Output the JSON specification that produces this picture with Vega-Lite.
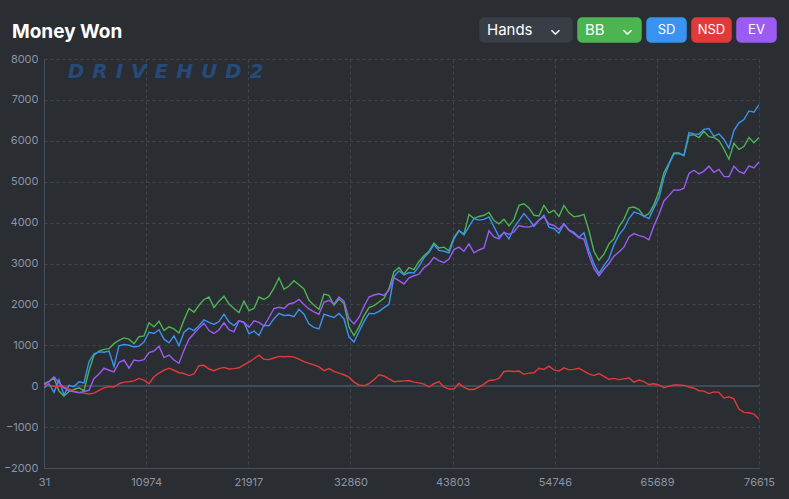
{
  "$schema": "https://vega.github.io/schema/vega-lite/v6.json",
  "width": 715,
  "height": 409,
  "autosize": {"type": "none"},
  "padding": {"left": 44, "top": 59, "right": 30, "bottom": 31},
  "background": "#2a2d32",
  "title": {
    "text": "Money Won",
    "subtitle": "\u200b\u00a0\u00a0\u00a0\u00a0\u00a0\u00a0\u00a0\u00a0D\u2009\u200a\u200aR\u2009\u200a\u200aI\u2009\u200a\u200aV\u2009\u200a\u200aE\u2009\u200a\u200aH\u2009\u200a\u200aU\u2009\u200a\u200aD\u2009\u200a\u200a2",
    "anchor": "start",
    "frame": "group",
    "dx": -32,
    "dy": 42,
    "offset": -22,
    "font": "Inter",
    "fontSize": 19,
    "fontWeight": 700,
    "color": "#ffffff",
    "subtitleFont": "DejaVu Sans",
    "subtitleFontSize": 20,
    "subtitleFontStyle": "italic",
    "subtitleFontWeight": "bold",
    "subtitleColor": "#264b7a",
    "subtitlePadding": 20
  },
  "data": {
    "values": [
      {"h":31,"BB":60,"SD":-40,"NSD":40,"EV":40},
      {"h":567,"BB":120,"SD":60,"NSD":20,"EV":110},
      {"h":1102,"BB":200,"SD":-150,"NSD":0,"EV":230},
      {"h":1638,"BB":-120,"SD":160,"NSD":0,"EV":80},
      {"h":2173,"BB":-240,"SD":-220,"NSD":-20,"EV":-40},
      {"h":2709,"BB":-130,"SD":20,"NSD":-70,"EV":-110},
      {"h":3244,"BB":-80,"SD":-10,"NSD":-120,"EV":-140},
      {"h":3780,"BB":-40,"SD":110,"NSD":-150,"EV":-160},
      {"h":4315,"BB":-110,"SD":80,"NSD":-170,"EV":-130},
      {"h":4851,"BB":380,"SD":600,"NSD":-190,"EV":-100},
      {"h":5386,"BB":760,"SD":790,"NSD":-170,"EV":190},
      {"h":5922,"BB":860,"SD":840,"NSD":-100,"EV":300},
      {"h":6457,"BB":900,"SD":830,"NSD":-40,"EV":440},
      {"h":6993,"BB":920,"SD":860,"NSD":-10,"EV":390},
      {"h":7528,"BB":1040,"SD":480,"NSD":-20,"EV":350},
      {"h":8064,"BB":1120,"SD":990,"NSD":60,"EV":580},
      {"h":8599,"BB":1180,"SD":1020,"NSD":100,"EV":640},
      {"h":9135,"BB":1150,"SD":1000,"NSD":110,"EV":440},
      {"h":9670,"BB":1040,"SD":960,"NSD":130,"EV":640},
      {"h":10206,"BB":1210,"SD":980,"NSD":190,"EV":620},
      {"h":10741,"BB":1230,"SD":1080,"NSD":150,"EV":650},
      {"h":11277,"BB":1550,"SD":1320,"NSD":60,"EV":820},
      {"h":11812,"BB":1450,"SD":1290,"NSD":230,"EV":860},
      {"h":12348,"BB":1590,"SD":1380,"NSD":320,"EV":980},
      {"h":12883,"BB":1360,"SD":1150,"NSD":390,"EV":700},
      {"h":13419,"BB":1450,"SD":1060,"NSD":440,"EV":760},
      {"h":13954,"BB":1400,"SD":1230,"NSD":390,"EV":640},
      {"h":14490,"BB":1300,"SD":990,"NSD":330,"EV":560},
      {"h":15025,"BB":1620,"SD":1320,"NSD":310,"EV":880},
      {"h":15561,"BB":1900,"SD":1420,"NSD":260,"EV":1150},
      {"h":16096,"BB":1810,"SD":1360,"NSD":300,"EV":1290},
      {"h":16632,"BB":1980,"SD":1480,"NSD":500,"EV":1420},
      {"h":17167,"BB":2120,"SD":1620,"NSD":510,"EV":1540},
      {"h":17703,"BB":2180,"SD":1560,"NSD":420,"EV":1360},
      {"h":18238,"BB":1920,"SD":1510,"NSD":380,"EV":1290},
      {"h":18774,"BB":2080,"SD":1580,"NSD":430,"EV":1380},
      {"h":19309,"BB":2200,"SD":1760,"NSD":460,"EV":1550},
      {"h":19845,"BB":2010,"SD":1570,"NSD":420,"EV":1380},
      {"h":20380,"BB":1900,"SD":1480,"NSD":430,"EV":1330},
      {"h":20916,"BB":1800,"SD":1600,"NSD":450,"EV":1600},
      {"h":21451,"BB":2080,"SD":1560,"NSD":520,"EV":1560},
      {"h":21987,"BB":1850,"SD":1280,"NSD":590,"EV":1440},
      {"h":22522,"BB":1900,"SD":1350,"NSD":670,"EV":1600},
      {"h":23058,"BB":2180,"SD":1240,"NSD":760,"EV":1560},
      {"h":23593,"BB":2120,"SD":1490,"NSD":660,"EV":1470},
      {"h":24129,"BB":2200,"SD":1480,"NSD":650,"EV":1680},
      {"h":24664,"BB":2400,"SD":1650,"NSD":690,"EV":1900},
      {"h":25200,"BB":2650,"SD":1780,"NSD":730,"EV":1930},
      {"h":25735,"BB":2370,"SD":1730,"NSD":720,"EV":1900},
      {"h":26271,"BB":2450,"SD":1740,"NSD":730,"EV":2010},
      {"h":26806,"BB":2580,"SD":1700,"NSD":710,"EV":2040},
      {"h":27342,"BB":2480,"SD":1880,"NSD":660,"EV":2120},
      {"h":27877,"BB":2380,"SD":1760,"NSD":600,"EV":2000},
      {"h":28413,"BB":2100,"SD":1520,"NSD":560,"EV":1890},
      {"h":28948,"BB":1980,"SD":1440,"NSD":520,"EV":1820},
      {"h":29484,"BB":1880,"SD":1400,"NSD":470,"EV":1760},
      {"h":30019,"BB":2250,"SD":1760,"NSD":380,"EV":2050},
      {"h":30555,"BB":2220,"SD":1720,"NSD":430,"EV":2100},
      {"h":31090,"BB":1980,"SD":1680,"NSD":360,"EV":2010},
      {"h":31626,"BB":2130,"SD":1780,"NSD":320,"EV":2180},
      {"h":32161,"BB":2020,"SD":1650,"NSD":280,"EV":2080},
      {"h":32697,"BB":1450,"SD":1200,"NSD":220,"EV":1650},
      {"h":33232,"BB":1240,"SD":1080,"NSD":100,"EV":1520},
      {"h":33768,"BB":1450,"SD":1330,"NSD":30,"EV":1680},
      {"h":34303,"BB":1720,"SD":1580,"NSD":10,"EV":1950},
      {"h":34839,"BB":1920,"SD":1780,"NSD":60,"EV":2180},
      {"h":35374,"BB":1970,"SD":1770,"NSD":160,"EV":2230},
      {"h":35910,"BB":2060,"SD":1830,"NSD":280,"EV":2260},
      {"h":36445,"BB":2150,"SD":1920,"NSD":250,"EV":2220},
      {"h":36981,"BB":2380,"SD":2000,"NSD":180,"EV":2350},
      {"h":37516,"BB":2800,"SD":2680,"NSD":110,"EV":2650},
      {"h":38052,"BB":2900,"SD":2820,"NSD":120,"EV":2580},
      {"h":38587,"BB":2740,"SD":2720,"NSD":130,"EV":2500},
      {"h":39123,"BB":2900,"SD":2780,"NSD":140,"EV":2650},
      {"h":39658,"BB":2850,"SD":2770,"NSD":100,"EV":2700},
      {"h":40194,"BB":3050,"SD":2930,"NSD":80,"EV":2740},
      {"h":40729,"BB":3190,"SD":3140,"NSD":50,"EV":2900},
      {"h":41265,"BB":3300,"SD":3270,"NSD":-20,"EV":2990},
      {"h":41800,"BB":3500,"SD":3460,"NSD":60,"EV":3150},
      {"h":42336,"BB":3380,"SD":3320,"NSD":110,"EV":3070},
      {"h":42871,"BB":3400,"SD":3300,"NSD":-20,"EV":3020},
      {"h":43407,"BB":3310,"SD":3260,"NSD":-70,"EV":3110},
      {"h":43942,"BB":3640,"SD":3600,"NSD":-70,"EV":3340},
      {"h":44478,"BB":3810,"SD":3800,"NSD":70,"EV":3400},
      {"h":45013,"BB":3720,"SD":3700,"NSD":-30,"EV":3300},
      {"h":45549,"BB":4200,"SD":3900,"NSD":-80,"EV":3480},
      {"h":46084,"BB":4100,"SD":4100,"NSD":-80,"EV":3260},
      {"h":46620,"BB":4150,"SD":4060,"NSD":-20,"EV":3330},
      {"h":47155,"BB":4180,"SD":4080,"NSD":50,"EV":3380},
      {"h":47691,"BB":4250,"SD":4140,"NSD":140,"EV":3800},
      {"h":48226,"BB":4050,"SD":3900,"NSD":150,"EV":3650},
      {"h":48762,"BB":3970,"SD":3650,"NSD":190,"EV":3600},
      {"h":49297,"BB":4080,"SD":3760,"NSD":360,"EV":3760},
      {"h":49833,"BB":3920,"SD":3600,"NSD":370,"EV":3710},
      {"h":50368,"BB":4080,"SD":3880,"NSD":360,"EV":3770},
      {"h":50904,"BB":4420,"SD":4050,"NSD":370,"EV":3930},
      {"h":51439,"BB":4460,"SD":4220,"NSD":290,"EV":3900},
      {"h":51975,"BB":4360,"SD":4080,"NSD":320,"EV":3890},
      {"h":52510,"BB":4180,"SD":3910,"NSD":330,"EV":3940},
      {"h":53046,"BB":4160,"SD":4060,"NSD":440,"EV":4060},
      {"h":53581,"BB":4420,"SD":4180,"NSD":410,"EV":4140},
      {"h":54117,"BB":4240,"SD":3890,"NSD":490,"EV":3970},
      {"h":54652,"BB":4300,"SD":3850,"NSD":400,"EV":3930},
      {"h":55188,"BB":4150,"SD":3740,"NSD":370,"EV":3830},
      {"h":55723,"BB":4420,"SD":3970,"NSD":450,"EV":3970},
      {"h":56259,"BB":4240,"SD":3820,"NSD":400,"EV":3810},
      {"h":56794,"BB":4140,"SD":3760,"NSD":410,"EV":3730},
      {"h":57330,"BB":4160,"SD":3640,"NSD":440,"EV":3630},
      {"h":57865,"BB":4200,"SD":3750,"NSD":370,"EV":3600},
      {"h":58401,"BB":3800,"SD":3320,"NSD":300,"EV":3200},
      {"h":58936,"BB":3300,"SD":2990,"NSD":260,"EV":2880},
      {"h":59472,"BB":3080,"SD":2760,"NSD":310,"EV":2700},
      {"h":60007,"BB":3230,"SD":2950,"NSD":240,"EV":2860},
      {"h":60543,"BB":3480,"SD":3120,"NSD":170,"EV":3000},
      {"h":61078,"BB":3600,"SD":3450,"NSD":190,"EV":3180},
      {"h":61614,"BB":3900,"SD":3700,"NSD":160,"EV":3280},
      {"h":62149,"BB":4080,"SD":3850,"NSD":180,"EV":3400},
      {"h":62685,"BB":4360,"SD":4100,"NSD":200,"EV":3650},
      {"h":63220,"BB":4380,"SD":4260,"NSD":100,"EV":3730},
      {"h":63756,"BB":4320,"SD":4220,"NSD":150,"EV":3680},
      {"h":64291,"BB":4150,"SD":4160,"NSD":110,"EV":3650},
      {"h":64827,"BB":4220,"SD":4100,"NSD":40,"EV":3580},
      {"h":65362,"BB":4440,"SD":4360,"NSD":60,"EV":3920},
      {"h":65898,"BB":4750,"SD":4600,"NSD":30,"EV":4200},
      {"h":66433,"BB":5220,"SD":5100,"NSD":-40,"EV":4530},
      {"h":66969,"BB":5450,"SD":5420,"NSD":0,"EV":4660},
      {"h":67504,"BB":5700,"SD":5680,"NSD":30,"EV":4800},
      {"h":68040,"BB":5700,"SD":5690,"NSD":30,"EV":4790},
      {"h":68575,"BB":5640,"SD":5640,"NSD":20,"EV":4840},
      {"h":69111,"BB":6130,"SD":6200,"NSD":-20,"EV":5200},
      {"h":69646,"BB":6150,"SD":6170,"NSD":-50,"EV":5280},
      {"h":70182,"BB":6080,"SD":6160,"NSD":-110,"EV":5190},
      {"h":70717,"BB":6230,"SD":6280,"NSD":-120,"EV":5260},
      {"h":71253,"BB":6100,"SD":6300,"NSD":-180,"EV":5380},
      {"h":71788,"BB":6080,"SD":6110,"NSD":-140,"EV":5230},
      {"h":72324,"BB":6010,"SD":6170,"NSD":-150,"EV":5300},
      {"h":72859,"BB":5800,"SD":6040,"NSD":-290,"EV":5130},
      {"h":73395,"BB":5550,"SD":5820,"NSD":-260,"EV":5120},
      {"h":73930,"BB":5940,"SD":6250,"NSD":-310,"EV":5380},
      {"h":74466,"BB":5790,"SD":6440,"NSD":-560,"EV":5250},
      {"h":75001,"BB":5860,"SD":6520,"NSD":-640,"EV":5200},
      {"h":75537,"BB":6080,"SD":6730,"NSD":-650,"EV":5390},
      {"h":76072,"BB":5950,"SD":6700,"NSD":-680,"EV":5340},
      {"h":76615,"BB":6080,"SD":6880,"NSD":-800,"EV":5480}
    ]
  },
  "layer": [
    {
      "mark": {"type": "rule", "color": "#434a5c", "strokeWidth": 1.5},
      "encoding": {
        "y": {
          "datum": 0,
          "type": "quantitative",
          "scale": {"domain": [-2000, 8000], "nice": false},
          "axis": {
            "values": [-2000, -1000, 0, 1000, 2000, 3000, 4000, 5000, 6000, 7000, 8000],
            "format": "d",
            "title": null,
            "grid": true
          }
        }
      }
    },
    {
      "transform": [{"fold": ["BB", "SD", "NSD", "EV"], "as": ["series", "won"]}],
      "mark": {"type": "line", "strokeWidth": 1.4, "clip": true},
      "encoding": {
        "x": {
          "field": "h",
          "type": "quantitative",
          "scale": {"domain": [31, 76615], "nice": false, "zero": false},
          "axis": {
            "values": [31, 10974, 21917, 32860, 43803, 54746, 65689, 76615],
            "format": "d",
            "title": null,
            "labelFlush": false,
            "grid": true
          }
        },
        "y": {
          "field": "won",
          "type": "quantitative",
          "scale": {"domain": [-2000, 8000], "nice": false},
          "axis": {
            "values": [-2000, -1000, 0, 1000, 2000, 3000, 4000, 5000, 6000, 7000, 8000],
            "format": "d",
            "title": null,
            "grid": true
          }
        },
        "color": {
          "field": "series",
          "type": "nominal",
          "scale": {
            "domain": ["Hands", "BB", "SD", "NSD", "EV"],
            "range": ["#383d46", "#4cb451", "#3993f0", "#e23a3a", "#9a5cf3"]
          },
          "legend": {
            "orient": "none",
            "legendX": 436,
            "legendY": -41,
            "direction": "horizontal",
            "title": null,
            "padding": 0,
            "columnPadding": 0,
            "labelFont": "Inter",
            "labelColor": "#ffffff",
            "labelExpr": "datum.label == 'Hands' ? 'Hands\u00a0\u00a0\u00a0\u00a0\u2304' : datum.label == 'BB' ? 'BB\u00a0\u00a0\u00a0\u00a0\u2304' : datum.label",
            "encode": {
              "symbols": {
                "update": {
                  "shape": {"signal": "datum.value == 'Hands' ? 'M-42,-12H42A4,4 0 0 1 46,-8V8A4,4 0 0 1 42,12H-42A4,4 0 0 1 -46,8V-8A4,4 0 0 1 -42,-12Z' : datum.value == 'BB' ? 'M-27.5,-12H27.5A4,4 0 0 1 31.5,-8V8A4,4 0 0 1 27.5,12H-27.5A4,4 0 0 1 -31.5,8V-8A4,4 0 0 1 -27.5,-12Z' : 'M-15.5,-12H15.5A4,4 0 0 1 19.5,-8V8A4,4 0 0 1 15.5,12H-15.5A4,4 0 0 1 -19.5,8V-8A4,4 0 0 1 -15.5,-12Z'"},
                  "size": {"value": 4},
                  "x": {"signal": "datum.value == 'Hands' ? 46 : datum.value == 'BB' ? 31.5 : 19.5"},
                  "y": {"value": 12},
                  "fill": {"scale": "color", "field": "value"},
                  "stroke": {"value": "transparent"},
                  "opacity": {"value": 1}
                }
              },
              "labels": {
                "update": {
                  "x": {"signal": "datum.value == 'Hands' || datum.value == 'BB' ? 7 : 19.5"},
                  "y": {"value": 12},
                  "align": {"signal": "datum.value == 'Hands' || datum.value == 'BB' ? 'left' : 'center'"},
                  "baseline": {"value": "middle"},
                  "fontSize": {"signal": "datum.value == 'Hands' || datum.value == 'BB' ? 15 : 13"}
                }
              }
            }
          }
        }
      }
    }
  ],
  "config": {
    "view": {"stroke": null},
    "font": "Inter",
    "axis": {
      "labelColor": "#8b95a7",
      "labelFont": "Inter",
      "labelFontSize": 11,
      "ticks": false,
      "domainColor": "#474e60",
      "domainWidth": 1,
      "gridColor": "#41464e",
      "gridDash": [3, 3],
      "gridWidth": 1
    },
    "axisX": {"labelPadding": 8},
    "axisY": {"labelPadding": 6}
  }
}
